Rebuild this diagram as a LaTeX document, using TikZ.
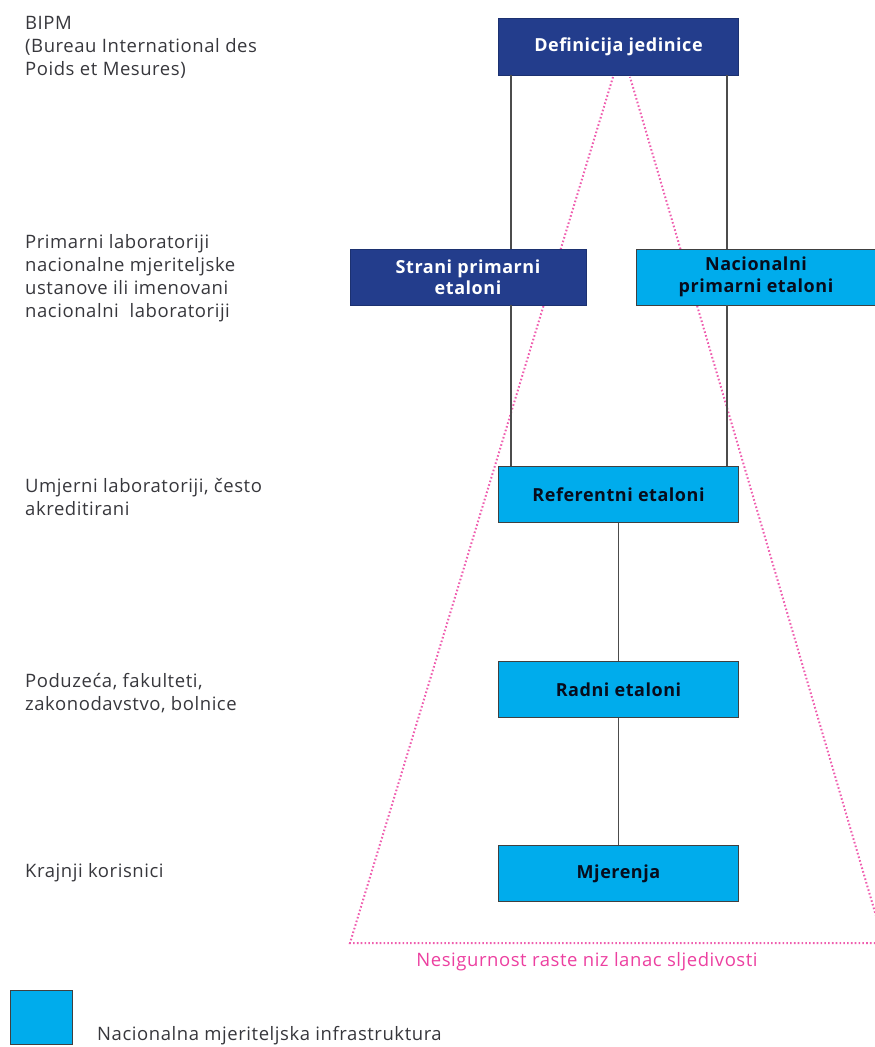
\documentclass[tikz,border=0pt]{standalone}
\usepackage{fontspec}
\setmainfont{Open Sans}[LetterSpace=3]
\usetikzlibrary{positioning}
\definecolor{bipmblue}{RGB}{35,61,140}
\definecolor{nmicyan}{RGB}{0,172,236}
\definecolor{uncpink}{RGB}{236,64,160}
\definecolor{labgray}{RGB}{55,55,60}
\tikzset{
	darkbox/.style={draw=bipmblue!80!black, line width=0.8pt, fill=bipmblue, text=white, font=\bfseries\fontsize{18}{21.5}\selectfont, minimum width=240pt, minimum height=56pt, align=center, inner sep=0pt},
	cyanbox/.style={darkbox, draw=black!75, text=black!80!bipmblue, fill=nmicyan},
	levellabel/.style={anchor=base west, align=left, inner sep=0pt, text=labgray, font=\fontsize{18.5}{23}\selectfont},
	link/.style={draw=black!70, line width=1.8pt},
	uncline/.style={draw=uncpink!85, line width=2pt, dash pattern=on 1.6pt off 2.2pt}
}
\begin{document}
\begin{tikzpicture}[x=1pt,y=-1pt]
	\useasboundingbox (0,0) rectangle (875,1047);
	\clip (0,0) rectangle (875,1047);
	% trokut nesigurnosti
	\coordinate (Ul) at (613,77);
	\coordinate (Ur) at (630,77);
	\coordinate (Bl) at (350,943);
	\coordinate (Br) at (884,943);
	\draw[uncline] (Ul) -- (Bl) -- (Br) -- (Ur);
	\node[text=uncpink, font=\fontsize{18.5}{21}\selectfont] (unc) at (587,962) {Nesigurnost raste niz lanac sljedivosti};
	% lanac sljedivosti
	\node[darkbox, minimum height=57pt] (def) at (618.5,46.5) {Definicija jedinice};
	\node[darkbox, minimum width=236pt] (strani) at (468,277) {Strani primarni\\etaloni};
	\node[cyanbox] (nac) at (756,277) {Nacionalni\\primarni etaloni};
	\node[cyanbox] (ref) at (618.5,494.5) {Referentni etaloni};
	\node[cyanbox] (radni) at (618.5,689.5) {Radni etaloni};
	\node[cyanbox] (mjer) at (618.5,873.5) {Mjerenja};
	\draw[link] ([xshift=13pt]def.south west) -- ([xshift=13pt]def.south west |- strani.north);
	\draw[link] ([xshift=-12pt]def.south east) -- ([xshift=-12pt]def.south east |- nac.north);
	\draw[link] ([xshift=13pt]ref.north west |- strani.south) -- ([xshift=13pt]ref.north west);
	\draw[link] ([xshift=-12pt]ref.north east |- nac.south) -- ([xshift=-12pt]ref.north east);
	\draw[link] (ref) -- (radni);
	\draw[link] (radni) -- (mjer);
	% razine
	\node[levellabel] (lbipm) at (25,75) {BIPM\\(Bureau International des\\Poids et Mesures)};
	\node[levellabel] (lprim) at (25,317) {Primarni laboratoriji\\nacionalne mjeriteljske\\ustanove ili imenovani\\nacionalni\ \ laboratoriji};
	\node[levellabel] (lumj) at (25,515) {Umjerni laboratoriji, često\\akreditirani};
	\node[levellabel] (lpod) at (25,710) {Poduzeća, fakulteti,\\zakonodavstvo, bolnice};
	\node[levellabel] (lkor) at (25,877) {Krajnji korisnici};
	% legenda
	\node[draw=black!75, line width=1pt, fill=nmicyan, minimum width=62pt, minimum height=54pt, inner sep=0pt] (leg) at (41.5,1017.5) {};
	\node[levellabel] (legtxt) at (97,1040) {Nacionalna mjeriteljska infrastruktura};
\end{tikzpicture}
\end{document}
